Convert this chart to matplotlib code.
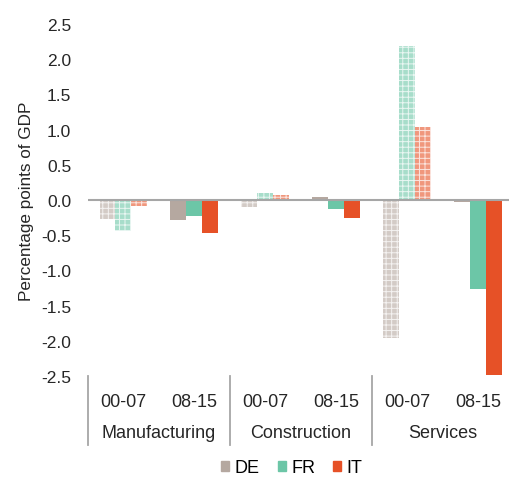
import matplotlib
matplotlib.use("Agg")
import matplotlib.pyplot as plt
import matplotlib.patches as mpatches
from matplotlib import transforms
from matplotlib.colors import to_rgb
import numpy as np

plt.rcParams['font.family'] = ['Liberation Sans', 'DejaVu Sans']
plt.rcParams['axes.unicode_minus'] = False
plt.rcParams['hatch.linewidth'] = 0.7

sectors = ["Manufacturing", "Construction", "Services"]
periods = ["00-07", "08-15"]
countries = ["DE", "FR", "IT"]
colors = ["#b5a8a0", "#6cc6a7", "#e65127"]

# slots: Manuf 00-07, Manuf 08-15, Constr 00-07, Constr 08-15, Serv 00-07, Serv 08-15
DE = [-0.27, -0.29, -0.10, 0.05, -1.96, -0.03]
FR = [-0.44, -0.22, 0.10, -0.12, 2.19, -1.26]
IT = [-0.09, -0.47, 0.07, -0.26, 1.04, -2.49]
series = [DE, FR, IT]

def tint(c, f):
    r = np.array(to_rgb(c))
    return tuple(r + (1 - r) * f)

FS = 13
fig = plt.figure(figsize=(5.10, 4.81), dpi=100)
ax = fig.add_axes([0.1725, 0.216, 0.835, 0.732])

x = np.arange(6)
w = 0.225
for i, (vals, col) in enumerate(zip(series, colors)):
    for j, v in enumerate(vals):
        hatched = (j % 2 == 0)
        if hatched:
            ax.bar(x[j] + (i - 1) * w, v, w, color=tint(col, 0.4), edgecolor=tint(col, 0.85),
                   hatch='+++', linewidth=0, zorder=2)
        else:
            ax.bar(x[j] + (i - 1) * w, v, w, color=col, linewidth=0, zorder=2)

ax.set_xlim(-0.5, 5.5)
ax.set_ylim(-2.5, 2.5)
yt = np.arange(-2.5, 2.51, 0.5)
ax.set_yticks(yt)
ax.set_yticklabels([f"{t:.1f}" for t in yt], fontsize=12.5, color='#262626')
ax.tick_params(axis='y', length=0, pad=12)
ax.axhline(0, color='#a6a6a6', linewidth=1.5, zorder=3)
for s in ax.spines.values():
    s.set_visible(False)

ax.set_xticks(x)
ax.set_xticklabels([p for s in sectors for p in periods], fontsize=FS, color='#262626')
ax.tick_params(axis='x', length=0, pad=12)

trans = transforms.blended_transform_factory(ax.transData, ax.transAxes)
for b in [-0.5, 1.5, 3.5]:
    ax.plot([b, b], [0, -0.195], transform=trans, color='#a6a6a6', linewidth=1.3, clip_on=False)
for k, s in enumerate(sectors):
    ax.text(2 * k + 0.5, -0.16, s, transform=trans, ha='center', va='center', fontsize=FS, color='#262626')

ax.set_ylabel("Percentage points of GDP", fontsize=12.3, color='#262626', labelpad=5)

handles = [mpatches.Patch(color=c, label=l) for c, l in zip(colors, countries)]
fig.legend(handles=handles, loc='center', bbox_to_anchor=(0.572, 0.025), ncol=3, frameon=False,
           fontsize=FS, handlelength=0.45, handleheight=0.45, handletextpad=0.3, columnspacing=1.0)

fig.savefig("out.png", dpi=100)
